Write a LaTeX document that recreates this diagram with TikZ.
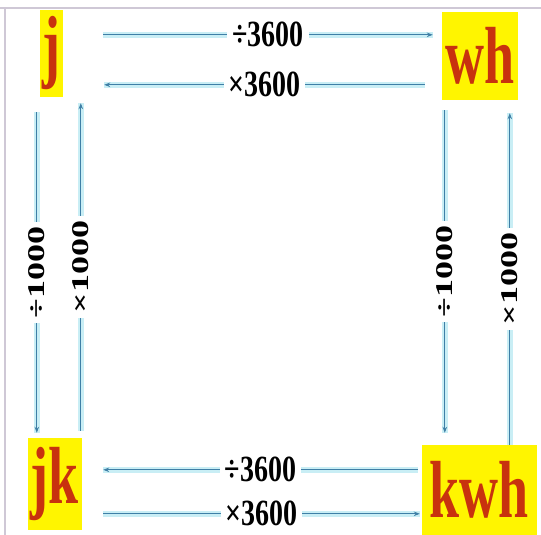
\documentclass[tikz,border=0pt]{standalone}
\usepackage{fontspec}
\setmainfont{Liberation Serif}
\usetikzlibrary{arrows.meta,positioning}
\definecolor{UnitRed}{HTML}{C8320E}
\definecolor{UnitFill}{HTML}{FFF500}
\definecolor{ArrowBlue}{HTML}{3F7FA6}
\definecolor{ArrowGlow}{HTML}{C9EEF5}
\definecolor{FrameGray}{HTML}{CFC8D6}
\newcommand{\tallbox}[1]{\scalebox{1}[1.5]{#1}}
\newcommand{\midbox}[1]{\scalebox{1}[1.32]{#1}}
\newcommand{\longbox}[1]{\scalebox{1.5}[1]{#1}}

\begin{document}
\begin{tikzpicture}[
    x=1pt, y=-1pt,
    >={Stealth[length=6pt,width=4.5pt]},
    unit/.style={fill=UnitFill, text=UnitRed, inner sep=0pt,
      font=\fontsize{54}{54}\selectfont\bfseries},
    conv/.style={draw=ArrowBlue, line width=1.3pt,
      preaction={draw=ArrowGlow, line width=5.5pt, arrows=-}},
    hlabel/.style={fill=white, inner sep=5pt,
      font=\fontsize{28}{28}\selectfont\bfseries},
    vlabel/.style={fill=white, inner sep=5pt, rotate=90,
      font=\fontsize{24}{24}\selectfont\bfseries}
  ]
  \useasboundingbox[fill=white] (0,0) rectangle (541,535);

  % frame
  \draw[FrameGray, line width=1.5pt] (0,8) -- (541,8);
  \draw[FrameGray, line width=1.5pt] (5,8) -- (5,535);

  % units
  \node[unit, minimum width=23pt, minimum height=87pt] (j) at (51.5,53.5) {\raisebox{-12pt}{\tallbox{j}}};
  \node[unit, minimum width=76pt, minimum height=88pt] (wh) at (480,56) {\raisebox{-10pt}{\tallbox{wh}}};
  \node[unit, minimum width=54pt, minimum height=92pt] (jk) at (55,484) {\raisebox{-8pt}{\tallbox{jk}}};
  \node[unit, minimum width=115pt, minimum height=90pt] (kwh) at (479.5,490) {\tallbox{kwh}};

  % top pair
  \draw[conv,->] ([xshift=40pt,yshift=-25pt]j.north east)
    -- node[hlabel] {\midbox{÷3600}} ([xshift=-9pt,yshift=-23pt]wh.north west);
  \draw[conv,->] ([xshift=-17pt,yshift=-73pt]wh.north west)
    -- node[hlabel] {\midbox{×3600}} ([xshift=41pt,yshift=-75pt]j.north east);

  % bottom pair
  \draw[conv,->] ([xshift=-4pt,yshift=-25pt]kwh.north west)
    -- node[hlabel] {\midbox{÷3600}} ([xshift=21pt,yshift=-32pt]jk.north east);
  \draw[conv,->] ([xshift=21pt,yshift=-76pt]jk.north east)
    -- node[hlabel] {\midbox{×3600}} ([xshift=-2pt,yshift=-69pt]kwh.north west);

  % left pair
  \draw[conv,->] ([xshift=-3pt,yshift=-15pt]j.south west)
    -- node[vlabel] {\longbox{÷1000}} ([xshift=9pt,yshift=5pt]jk.north west);
  \draw[conv,->] ([xshift=53pt,yshift=7pt]jk.north west)
    -- node[vlabel] {\longbox{×1000}} ([xshift=41pt,yshift=-6pt]j.south west);

  % right pair
  \draw[conv,->] ([xshift=3pt,yshift=-10pt]wh.south west)
    -- node[vlabel] {\longbox{÷1000}} ([xshift=23pt,yshift=12pt]kwh.north west);
  \draw[conv,->] ([xshift=88pt]kwh.north west)
    -- node[vlabel] {\longbox{×1000}} ([xshift=68pt,yshift=-13pt]wh.south west);
\end{tikzpicture}
\end{document}
